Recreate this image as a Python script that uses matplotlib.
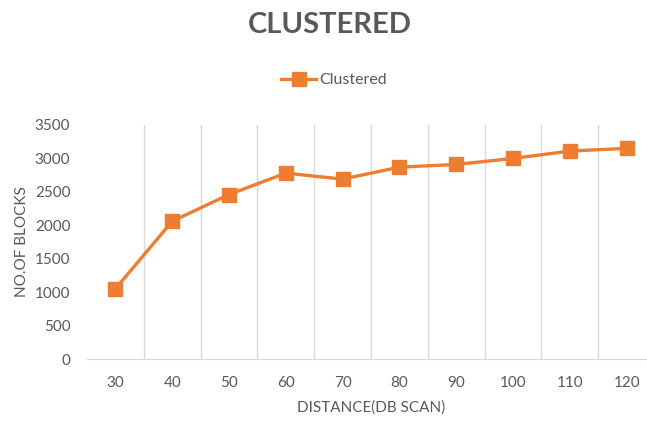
import matplotlib as mpl
import matplotlib.pyplot as plt
import numpy as np

# DBSCAN distance vs number of blocks
distance = ['30', '40', '50', '60', '70', '80', '90', '100', '110', '120']
blocks = [1050, 2060, 2460, 2780, 2690, 2870, 2910, 3000, 3110, 3150]

y_ticks = [0, 500, 1000, 1500, 2000, 2500, 3000, 3500]

text_grey = '#595959'
line_orange = '#ED7D31'

mpl.rcParams['font.family'] = ['Lato', 'DejaVu Sans']

fig = plt.figure(figsize=(6.47, 4.23), dpi=100)
ax = fig.add_axes([87 / 647, 64 / 423, 568 / 647, 234 / 423])

x = np.arange(len(distance))
ax.plot(x, blocks, color=line_orange, linewidth=2.4, marker='s',
        markersize=10, label='Clustered')

ax.set_xlim(-0.5, len(distance) - 0.5)
ax.set_ylim(0, 3500)
ax.set_yticks(y_ticks)
ax.set_xticks(x)
ax.set_xticklabels(distance)

# vertical gridlines sit on the category boundaries
for b in np.arange(0.5, len(distance) - 0.5, 1.0):
    ax.axvline(b, color='#d9d9d9', linewidth=1.0, zorder=0)

for side in ['top', 'right', 'left']:
    ax.spines[side].set_visible(False)
ax.spines['bottom'].set_color('#d9d9d9')
ax.tick_params(length=0, colors=text_grey, labelsize=11)
ax.tick_params(axis='x', pad=12)
ax.tick_params(axis='y', pad=12)

ax.set_xlabel('DISTANCE(DB SCAN)', color=text_grey, fontsize=11, labelpad=8)
ax.set_ylabel('NO.OF BLOCKS', color=text_grey, fontsize=11, labelpad=4)

fig.text(330 / 647, 1 - 25 / 423, 'CLUSTERED', ha='center', va='center',
         fontsize=21, fontweight='bold', color=text_grey)

ax.legend(loc='center', bbox_to_anchor=(334 / 647, 1 - 80 / 423),
          bbox_transform=fig.transFigure, frameon=False, fontsize=11.5,
          labelcolor=text_grey, handlelength=2.2, handletextpad=0.2)

fig.savefig('out.png', dpi=100)
